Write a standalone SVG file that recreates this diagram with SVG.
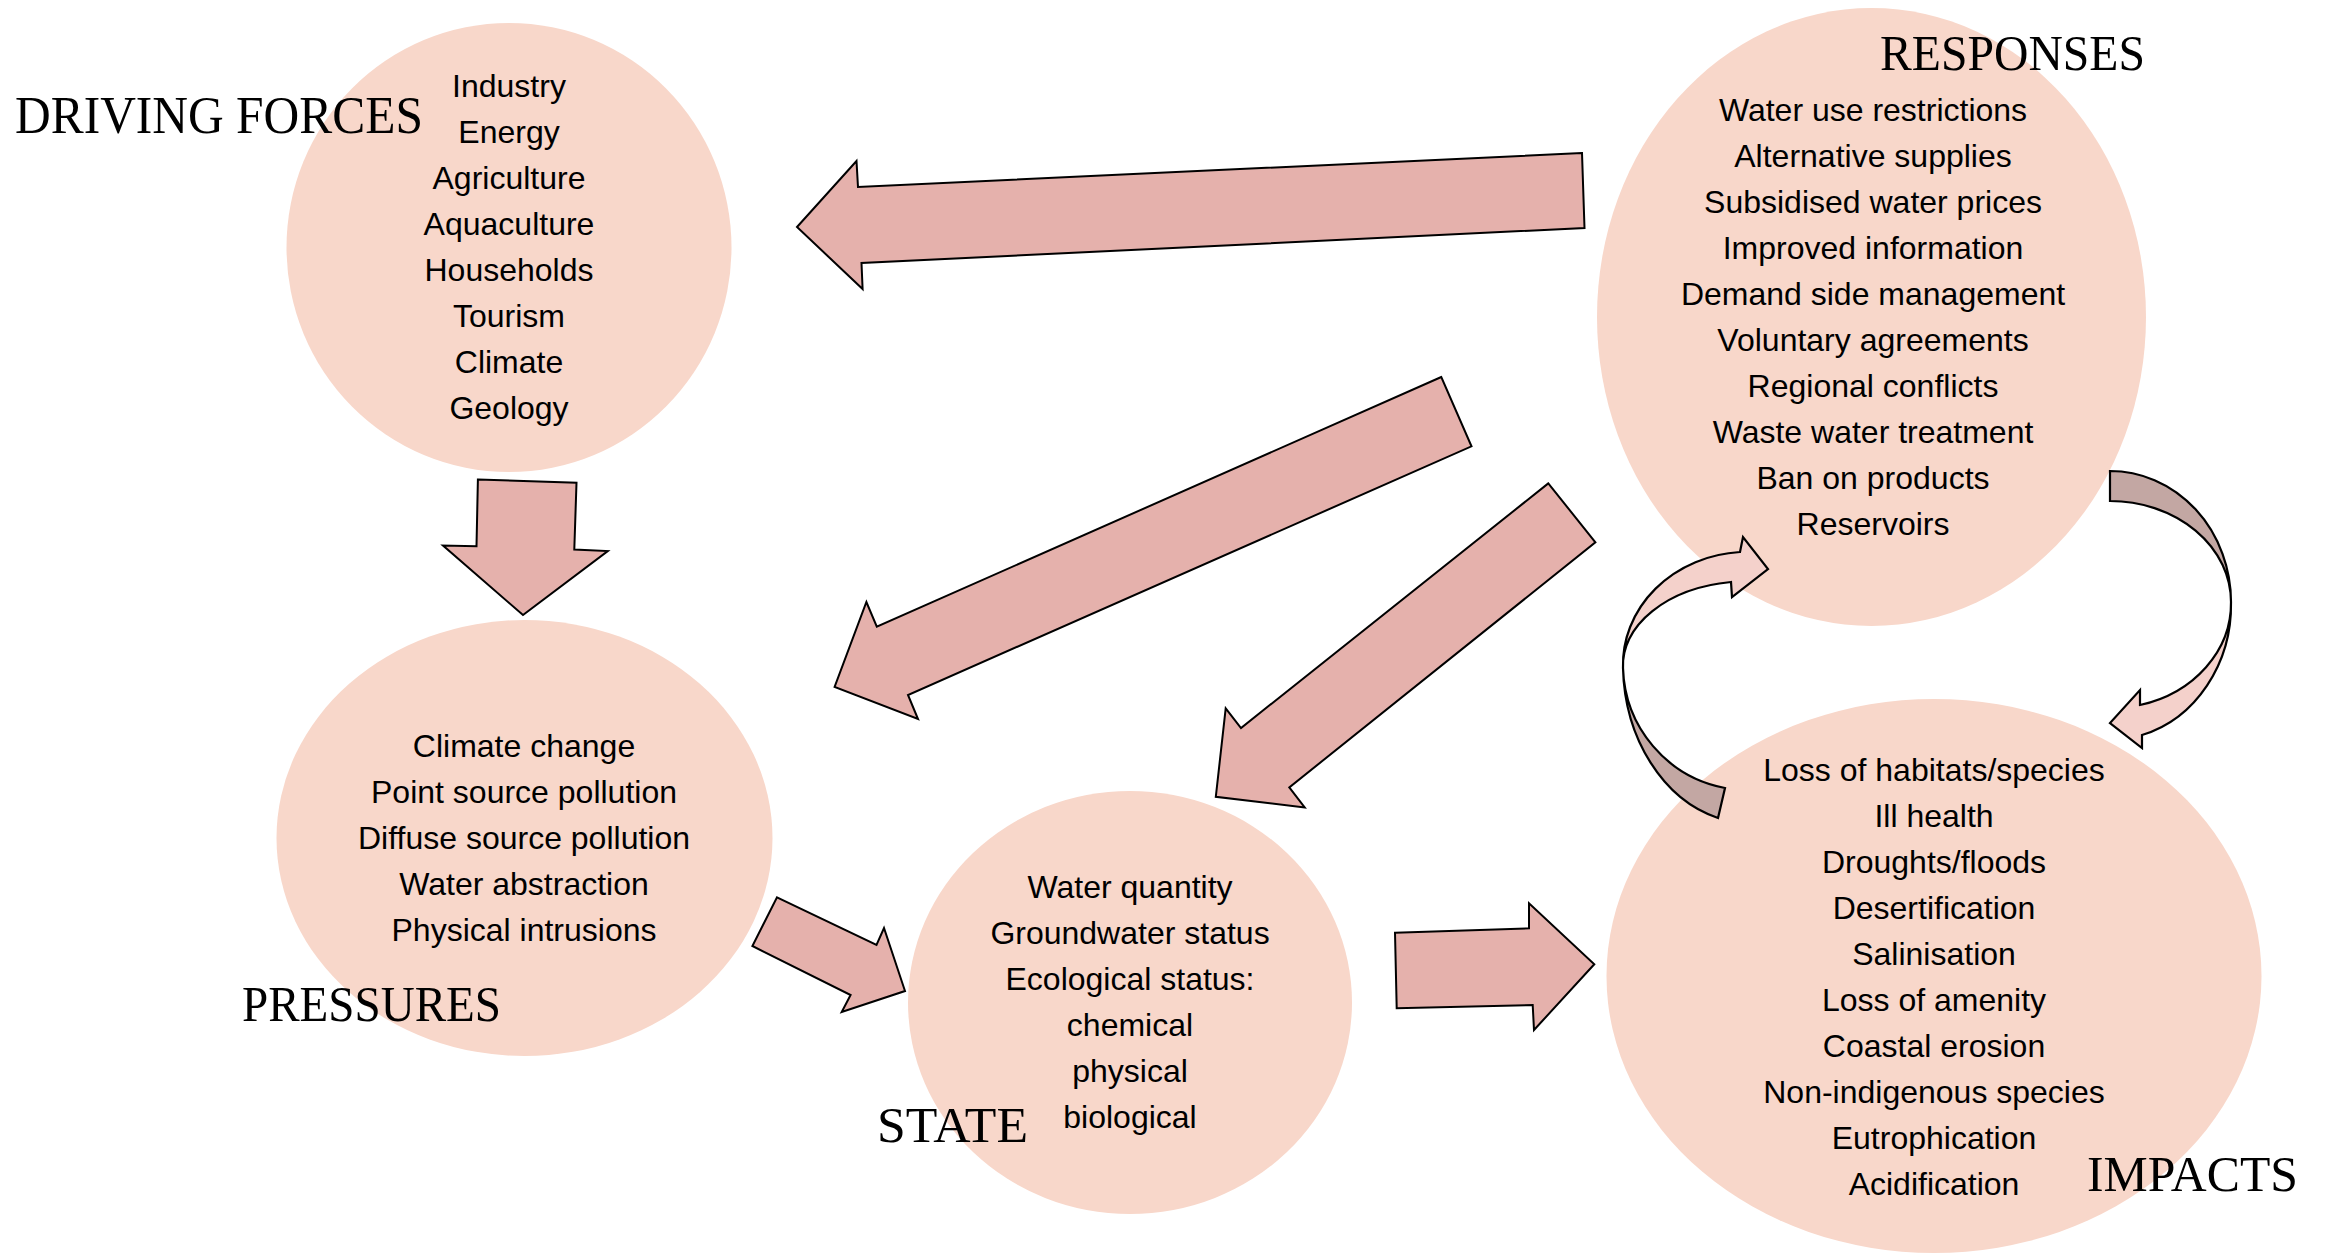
<svg xmlns="http://www.w3.org/2000/svg" width="2326" height="1255" viewBox="0 0 2326 1255">
  <style>
    .bubble { fill: #F8D7CA; stroke: none; }
    .item { font-family: "Liberation Sans", Arial, sans-serif; font-size: 32px; fill: #000; text-anchor: middle; }
    .title { font-family: "Liberation Serif", "Times New Roman", serif; fill: #000; }
    .block { fill: #E5B1AC; stroke: #000; stroke-width: 2; stroke-linejoin: miter; }
    .curve-back { fill: #C3A7A3; stroke: #000; stroke-width: 2.2; }
    .curve-front { fill: #F4D1CB; stroke: #000; stroke-width: 2.2; }
  </style>
  <rect width="2326" height="1255" fill="#FFFFFF"/>

  <!-- Driving forces -->
  <g id="node-driving-forces">
    <ellipse class="bubble" cx="509" cy="247.5" rx="222.5" ry="224.5"/>
    <text class="item" x="509" y="96.5">Industry</text>
    <text class="item" x="509" y="142.5">Energy</text>
    <text class="item" x="509" y="188.5">Agriculture</text>
    <text class="item" x="509" y="234.5">Aquaculture</text>
    <text class="item" x="509" y="280.5">Households</text>
    <text class="item" x="509" y="326.5">Tourism</text>
    <text class="item" x="509" y="372.5">Climate</text>
    <text class="item" x="509" y="418.5">Geology</text>
    <text class="title" x="15" y="133" font-size="53" textLength="408" lengthAdjust="spacingAndGlyphs">DRIVING FORCES</text>
  </g>

  <!-- Pressures -->
  <g id="node-pressures">
    <ellipse class="bubble" cx="524.5" cy="838" rx="248" ry="218"/>
    <text class="item" x="524" y="756.5">Climate change</text>
    <text class="item" x="524" y="802.5">Point source pollution</text>
    <text class="item" x="524" y="848.5">Diffuse source pollution</text>
    <text class="item" x="524" y="894.5">Water abstraction</text>
    <text class="item" x="524" y="940.5">Physical intrusions</text>
    <text class="title" x="242" y="1021" font-size="51" textLength="259" lengthAdjust="spacingAndGlyphs">PRESSURES</text>
  </g>

  <!-- State -->
  <g id="node-state">
    <ellipse class="bubble" cx="1130" cy="1002.5" rx="222" ry="211.5"/>
    <text class="item" x="1130" y="897.5">Water quantity</text>
    <text class="item" x="1130" y="943.5">Groundwater status</text>
    <text class="item" x="1130" y="989.5">Ecological status:</text>
    <text class="item" x="1130" y="1035.5">chemical</text>
    <text class="item" x="1130" y="1081.5">physical</text>
    <text class="item" x="1130" y="1127.5">biological</text>
    <text class="title" x="877" y="1142" font-size="51" textLength="151" lengthAdjust="spacingAndGlyphs">STATE</text>
  </g>

  <!-- Impacts -->
  <g id="node-impacts">
    <ellipse class="bubble" cx="1934" cy="976" rx="327.5" ry="277"/>
    <text class="item" x="1934" y="780.5">Loss of habitats/species</text>
    <text class="item" x="1934" y="826.5">Ill health</text>
    <text class="item" x="1934" y="872.5">Droughts/floods</text>
    <text class="item" x="1934" y="918.5">Desertification</text>
    <text class="item" x="1934" y="964.5">Salinisation</text>
    <text class="item" x="1934" y="1010.5">Loss of amenity</text>
    <text class="item" x="1934" y="1056.5">Coastal erosion</text>
    <text class="item" x="1934" y="1102.5">Non-indigenous species</text>
    <text class="item" x="1934" y="1148.5">Eutrophication</text>
    <text class="item" x="1934" y="1194.5">Acidification</text>
    <text class="title" x="2087" y="1191" font-size="51" textLength="211" lengthAdjust="spacingAndGlyphs">IMPACTS</text>
  </g>

  <!-- Responses -->
  <g id="node-responses">
    <ellipse class="bubble" cx="1871.5" cy="317" rx="274.5" ry="309"/>
    <text class="item" x="1873" y="121">Water use restrictions</text>
    <text class="item" x="1873" y="167">Alternative supplies</text>
    <text class="item" x="1873" y="213">Subsidised water prices</text>
    <text class="item" x="1873" y="259">Improved information</text>
    <text class="item" x="1873" y="305">Demand side management</text>
    <text class="item" x="1873" y="351">Voluntary agreements</text>
    <text class="item" x="1873" y="397">Regional conflicts</text>
    <text class="item" x="1873" y="443">Waste water treatment</text>
    <text class="item" x="1873" y="489">Ban on products</text>
    <text class="item" x="1873" y="535">Reservoirs</text>
    <text class="title" x="1880" y="70" font-size="50" textLength="265" lengthAdjust="spacingAndGlyphs">RESPONSES</text>
  </g>

  <!-- Connectors: block arrows and curved feedback arrows -->
  <g id="connectors">
    <!-- responses -> driving forces -->
    <polygon class="block" points="1582,153 858,187 856.5,161 797,227 862.6,289 861.5,263 1584.5,228"/>
    <!-- responses -> pressures -->
    <polygon class="block" points="1441.3,377 876.8,626.7 866.4,602 834.6,687 918,719 908,695 1471.5,446.3"/>
    <!-- responses -> state -->
    <polygon class="block" points="1548.3,483.4 1241,728 1225.7,708.4 1215.8,796.8 1304.7,807.5 1289.3,787.4 1595.4,542.3"/>
    <!-- driving forces -> pressures -->
    <polygon class="block" points="477.9,479.5 576.5,482.7 574.3,549.5 607.8,551 523,615 443,545.5 476.5,546.3"/>
    <!-- pressures -> state -->
    <polygon class="block" points="777,897.3 876.5,945 884,928 905,991 841.7,1012 850.6,995 752.4,946"/>
    <!-- state -> impacts -->
    <polygon class="block" points="1395,932.7 1529,928.3 1529,903.3 1594.3,964.3 1534,1030 1532.7,1005 1396.7,1008.3"/>

    <!-- responses -> impacts (curved) -->
    <g id="curve-responses-impacts">
      <path class="curve-back" d="M2110,471 A121,131 0 0 1 2231,602 A121,101 0 0 0 2110,501 Z"/>
      <path class="curve-front" d="M2231,602 A121,135 0 0 1 2142,735 L2142,748 L2110,723 L2140,690 L2140,705 A121,105 0 0 0 2231,602 Z"/>
    </g>
    <!-- impacts -> responses (curved) -->
    <g id="curve-impacts-responses">
      <path class="curve-back" d="M1718,818 A128,160 0 0 1 1623,668 A125,126 0 0 0 1725,788 Z"/>
      <path class="curve-front" d="M1623,668 A125,113 0 0 1 1740,552 L1743,537 L1768,569 L1732,597 L1731,582 A125,84 0 0 0 1623,668 Z"/>
    </g>
  </g>
</svg>
